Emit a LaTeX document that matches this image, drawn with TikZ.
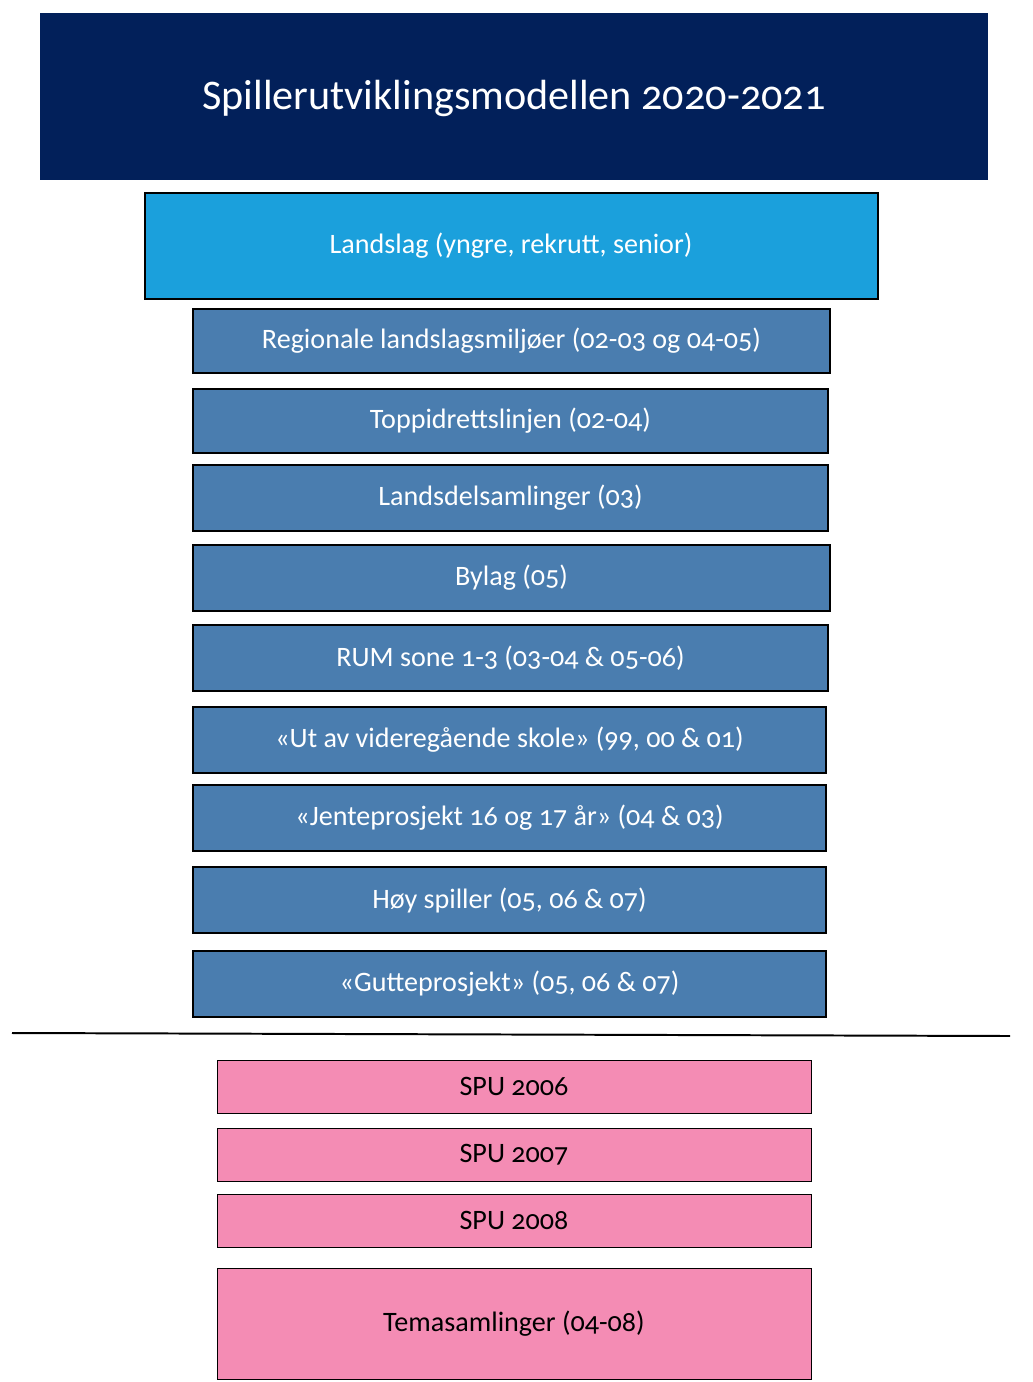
\documentclass[tikz,border=0pt]{standalone}
\usepackage{fontspec}
\setmainfont[Numbers=OldStyle]{Carlito}
\definecolor{navy}{HTML}{02205A}
\definecolor{sky}{HTML}{1BA0DC}
\definecolor{steel}{HTML}{4A7DAF}
\definecolor{pinkb}{HTML}{F48CB4}
\begin{document}
\begin{tikzpicture}[x=0.05cm,y=-0.05cm,
 bx/.style={draw=black,line width=4.2pt,fill=steel,text=white,font=\fontsize{40}{44}\selectfont},
 pk/.style={draw=black,line width=1.4pt,fill=pinkb,text=black,font=\fontsize{40}{44}\selectfont}]
\useasboundingbox (0,0) rectangle (1032,1382);
\fill[navy] (40,13) rectangle (988,180);
\node[text=white,font=\fontsize{60}{66}\selectfont] (title) at (514,98) {Spillerutviklingsmodellen 2020-2021};
\draw[line width=4.2pt,fill=sky] (145,193) rectangle (878,299);
\node[text=white,font=\fontsize{40}{44}\selectfont] (ls) at (511,246) {Landslag (yngre, rekrutt, senior)};
\foreach \a/\b/\r/\t [count=\i] in {
309/373/830/Regionale landslagsmiljøer (02-03 og 04-05),
389/453/828/Toppidrettslinjen (02-04),
465/531/828/Landsdelsamlinger (03),
545/611/830/Bylag (05),
625/691/828/RUM sone 1-3 (03-04 \& 05-06),
707/773/826/«Ut av videregående skole» (99{,} 00 \& 01),
785/851/826/«Jenteprosjekt 16 og 17 år» (04 \& 03),
867/933/826/Høy spiller (05{,} 06 \& 07),
951/1017/826/«Gutteprosjekt» (05{,} 06 \& 07)}{
 \draw[bx] (193,\a) rectangle (\r,\b);
 \node[text=white,font=\fontsize{40}{44}\selectfont] (b\i) at ({(193+\r)/2},{(\a+\b)/2}) {\t};
}
\draw[line width=2.8pt] (12,1033) -- (1010,1036);
\foreach \a/\b/\t [count=\i] in {1060/1113/SPU 2006,1128/1181/SPU 2007,1194/1247/SPU 2008,1268/1379/Temasamlinger (04-08)}{
 \draw[pk] (217,\a) rectangle (811,\b);
 \node[font=\fontsize{40}{44}\selectfont] (p\i) at (514,{(\a+\b)/2}) {\t};
}
\end{tikzpicture}
\end{document}
